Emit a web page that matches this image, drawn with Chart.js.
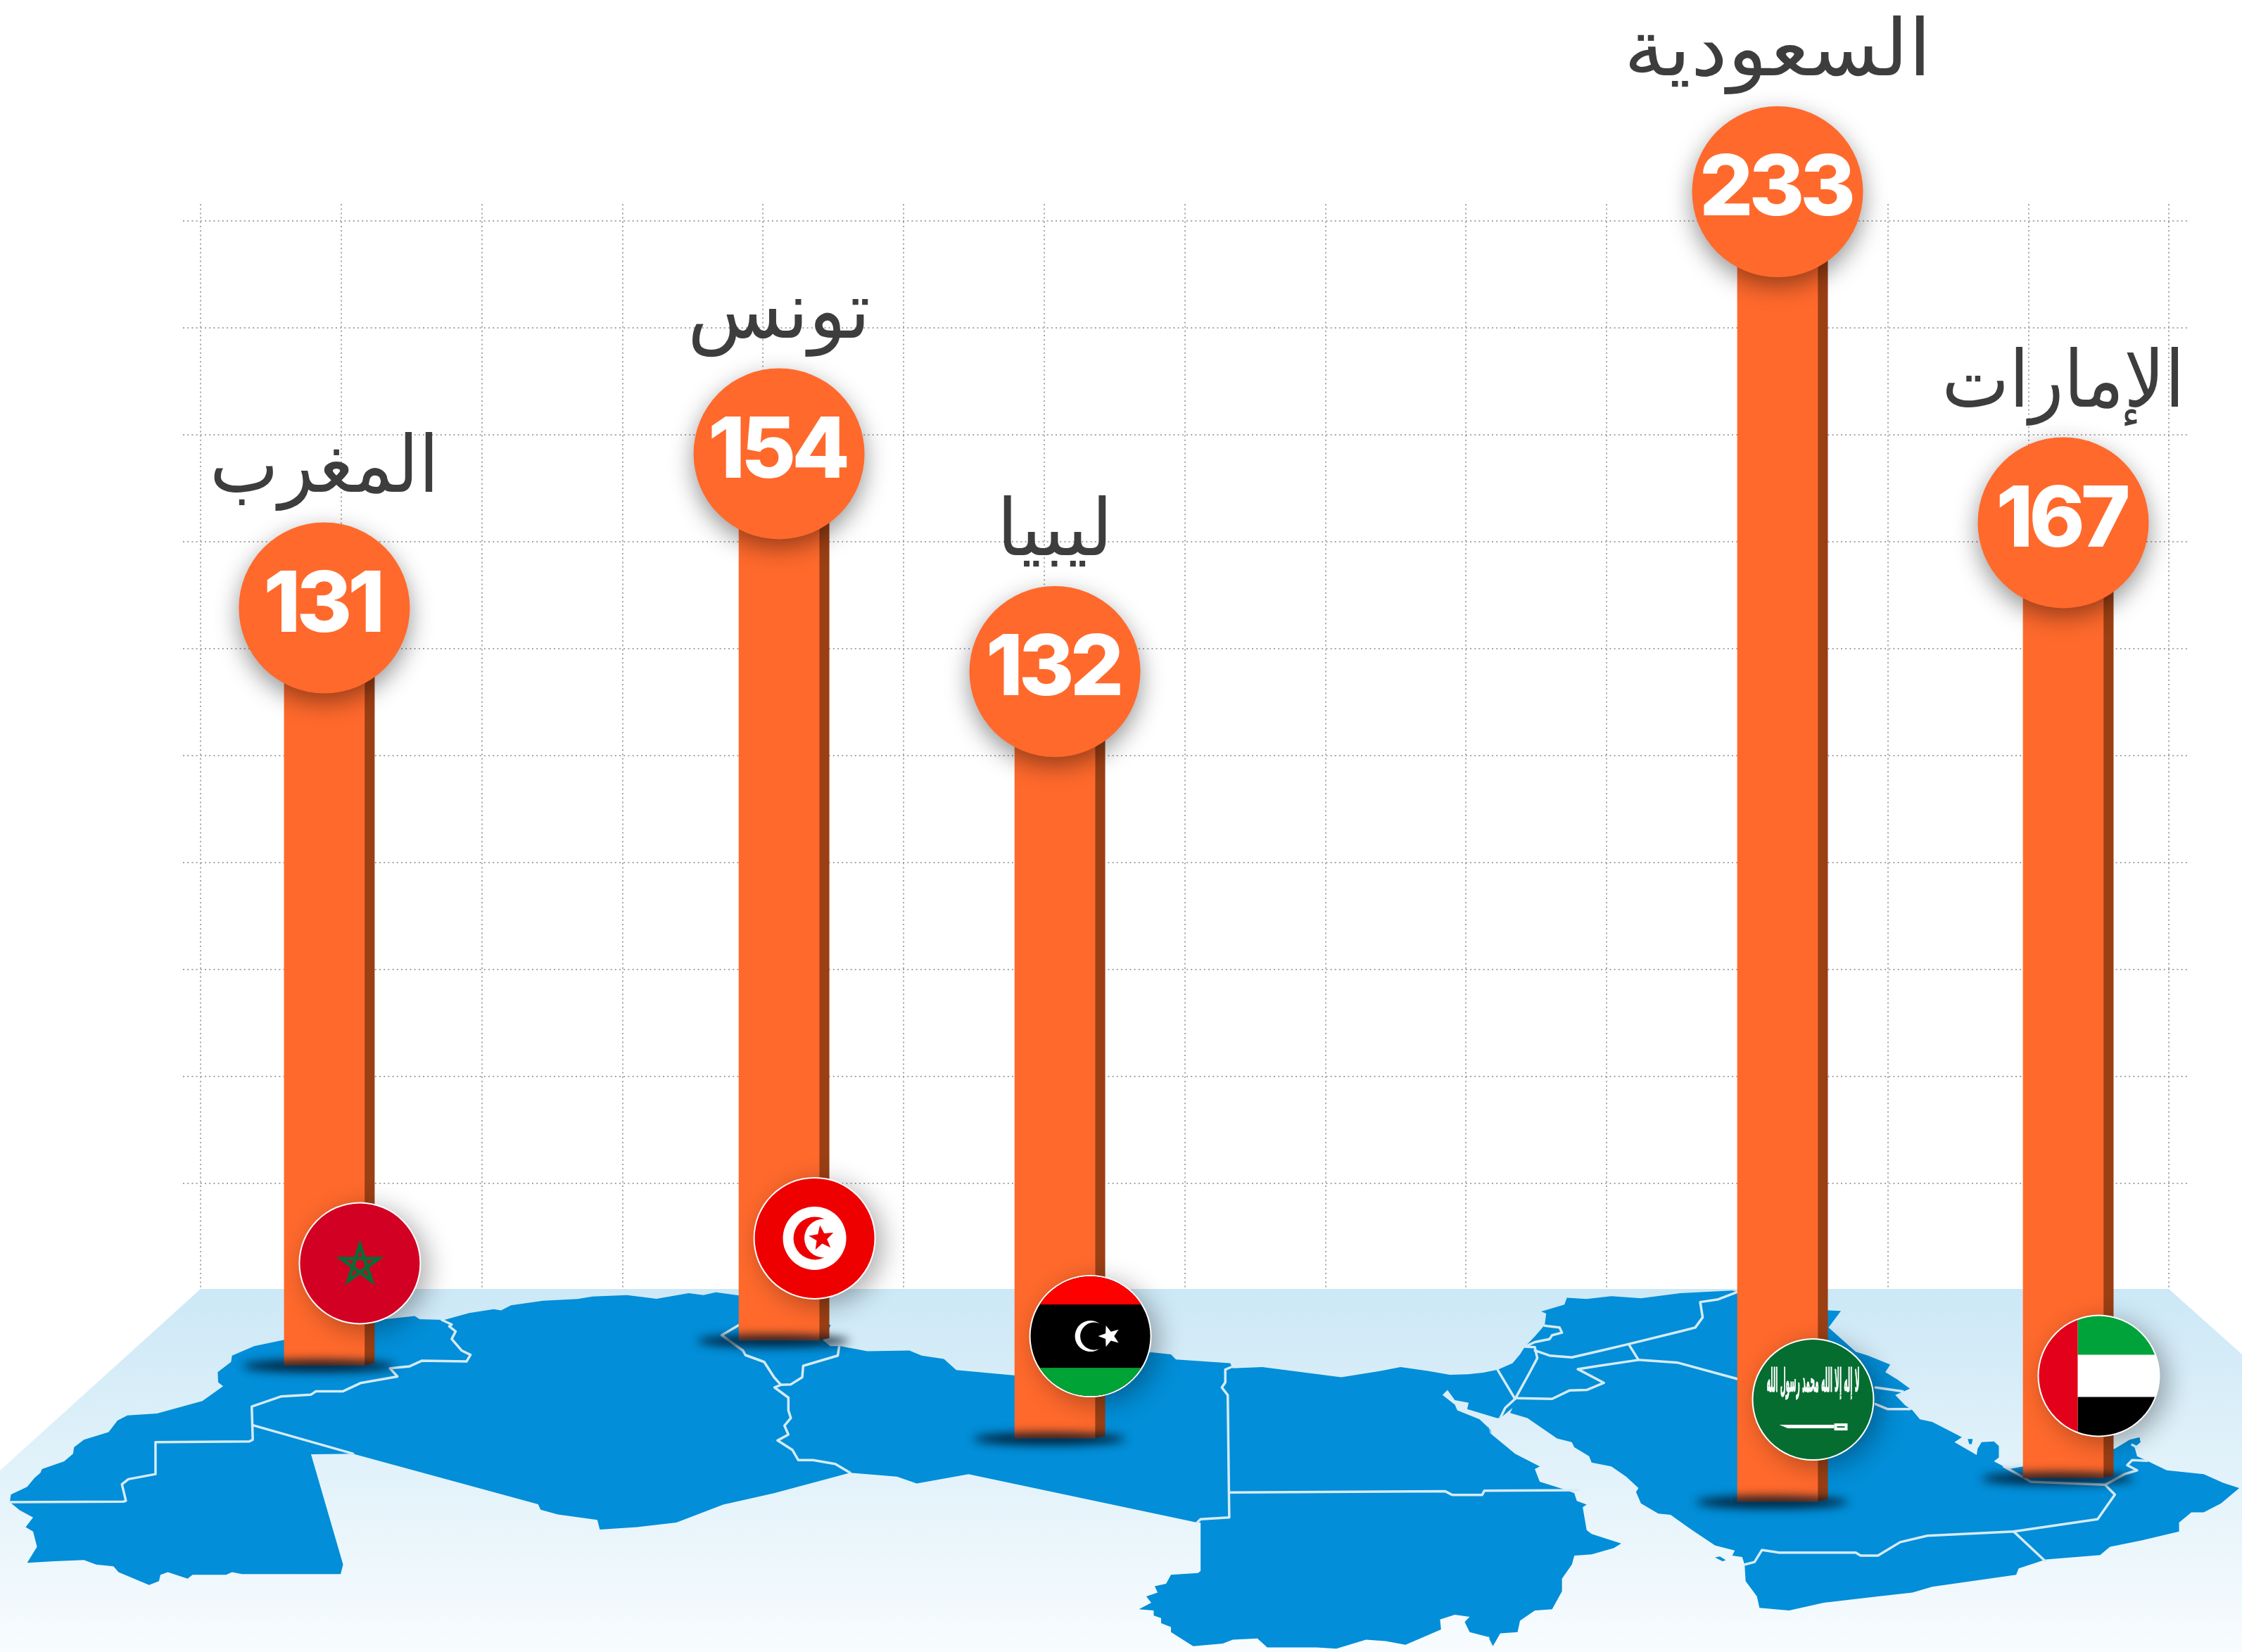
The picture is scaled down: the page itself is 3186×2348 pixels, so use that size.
<!DOCTYPE html>
<html lang="ar">
<head>
<meta charset="utf-8">
<style>html,body{margin:0;padding:0;background:#fff}canvas{display:block}</style>
<script src="https://cdn.jsdelivr.net/npm/chart.js@4"></script>
</head>
<body>
<canvas id="c" width="3186" height="2348"></canvas>
<script>
const countries = ['المغرب','تونس','ليبيا','السعودية','الإمارات'];
const flags = ['ma','tn','ly','sa','ae'];
const values = [131,154,132,233,167];
const columnSlot = [0.879,4.113,6.075,11.215,13.247];
const columnFoot = [-13.35,-8.9,-26.3,-37.55,-33.35];
const badgeLift = [3.56,3.5,4.2,-0.3,2.7];
const labelSpan = [326,260,165,437,345];
const gridX = [0,1,2,3,4,5,6,7,8,9,10,11,12,13,14];
const gridY = [19,38,57,76,95,114,133,152,171,190];

/* backdrop map, traced in crop units */
const W=1100/1568, H=568/1568, Y0=1780, O1=0, O2=1497, O3=2974;
const seg=(o,a)=>a.map(p=>[(p[0]+o)*W,Y0+p[1]*H]);
const mapRing=[].concat(
 seg(O1,[[302,1305],[240,1255],[230,1232],[195,1225],[170,1207],[110,1212],[55,1218],[75,1155],[67,1095],[52,1078],[67,1040],[40,1012],[20,980],[22,950],[55,920],[70,885],[82,865],[85,850],[130,820],[148,790],[150,765],[170,735],[220,705],[238,660],[258,640],[318,632],[410,583],[452,525],[442,510],[441,470],[468,430],[470,405],[515,368],[576,343],[780,262],[840,250],[850,262],[900,265],[950,238],[1000,223],[1015,228],[1035,208],[1100,190],[1170,183],[1200,173],[1270,168],[1330,182],[1395,160],[1425,168],[1450,157],[1500,170]]),
 seg(O2,[[186,285],[170,345],[185,368],[205,368],[260,388],[345,385],[370,405],[415,418],[440,462],[560,483],[835,392],[875,400],[885,420],[995,435],[1000,455],[1060,450],[1220,490],[1300,465],[1340,450],[1395,465],[1440,480]]),
 seg(O3,[[0,478],[30,472],[60,460],[90,435],[105,400],[115,370],[135,330],[155,285],[158,240],[148,232],[195,205],[200,178],[240,183],[290,172],[350,180],[430,160],[535,150],[546,155],[730,228],[755,230],[730,295],[785,390],[810,405],[855,440],[845,470],[870,500],[895,535],[865,560],[885,600],[900,620],[915,655],[940,665],[985,710],[1000,725],[985,745],[1030,795],[1032,770],[1040,745],[1065,742],[1075,760],[1075,805],[1065,820],[1085,840],[1095,850],[1125,840],[1310,770],[1340,735],[1360,725],[1362,745],[1350,765],[1355,800],[1375,818],[1415,855],[1490,870],[1530,905],[1562,925],[1525,985],[1490,1020],[1465,1020],[1440,1060],[1440,1095],[1365,1130],[1300,1155],[1280,1188],[1170,1205],[1115,1240],[1110,1265],[940,1312],[900,1335],[830,1350],[720,1375],[650,1405],[590,1395],[585,1350],[562,1290],[560,1225],[555,1195],[535,1190],[540,1170],[500,1150],[450,1085],[410,1030],[385,1025],[350,985],[340,940],[345,925],[320,880],[290,840],[250,825],[245,800],[215,765],[210,745],[180,730],[120,650],[85,630],[90,610],[65,650]]),
 seg(O2,[[1535,650],[1475,615],[1478,590],[1450,580],[1435,540],[1425,560],[1450,598],[1455,620],[1500,655],[1522,695],[1525,715]]),
 seg(O3,[[40,680],[45,710],[95,790],[145,840],[135,850],[145,900],[195,930],[215,945],[220,975],[240,990],[232,1000],[240,1090],[250,1105],[310,1142],[295,1160],[250,1185],[215,1190],[210,1225],[190,1280],[190,1330],[170,1400],[135,1405],[105,1445],[100,1490],[65,1495],[50,1545],[40,1500]]),
 seg(O2,[[1525,1545],[1520,1510],[1480,1490],[1470,1450],[1480,1430],[1450,1422],[1420,1440],[1422,1480],[1350,1540],[1310,1525],[1270,1520],[1210,1555],[1170,1550],[1070,1550],[1050,1515],[1000,1520],[980,1535],[920,1545],[875,1490],[875,1470],[855,1455],[855,1435],[840,1425],[840,1405],[810,1400],[835,1375],[825,1350],[848,1335],[842,1310],[865,1300],[875,1265],[930,1258],[935,1250],[935,1060],[928,1060],[465,870],[360,907],[320,880],[225,865],[71,945]]),
 seg(O1,[[1465,990],[1370,1060],[1290,1078],[1215,1088],[1210,1050],[1130,1028],[1095,1010],[1090,988],[715,790],[630,792],[695,1225],[690,1262],[490,1262],[470,1255],[458,1265],[390,1265],[380,1280],[340,1255],[325,1265],[322,1290]])
);
const mapIslands=[
 seg(O3,[[1012,732],[1022,732],[1020,752],[1015,752]]),
 seg(O3,[[500,1197],[510,1193],[522,1208],[515,1212]])
];
const mapBorders=[
 seg(O1,[[20,980],[250,978],[255,975],[247,910],[260,890],[315,870],[315,745],[505,742],[512,735],[510,605],[570,565],[630,558],[640,545],[695,545],[730,513],[805,487],[790,455],[830,447],[855,425],[945,428],[953,402],[935,385],[915,340],[923,310],[910,290],[915,283],[895,265]]),
 seg(O1,[[512,678],[715,790]]),
 seg(O1,[[1497,285],[1462,325],[1505,385],[1510,403],[1548,430],[1568,490]]).concat(seg(O2,[[85,520],[72,530],[100,570],[100,620],[105,650],[92,680],[100,715],[78,738],[108,775],[120,815],[150,815],[195,830],[225,865]])),
 seg(O2,[[85,520],[105,518],[128,490],[130,445],[200,405],[203,368]]),
 seg(O2,[[997,450],[985,460],[985,510],[978,530],[990,560],[993,1040],[935,1047],[928,1060]]),
 seg(O2,[[995,942],[1430,937],[1445,952],[1505,952],[1510,935],[1700,933]]),
 seg(O3,[[60,462],[95,575],[125,470],[140,415],[135,372],[115,370],[135,352],[165,340],[170,325],[190,315],[185,295],[155,288]]),
 seg(O3,[[135,385],[165,405],[210,412],[270,385],[325,360],[430,310],[460,295],[475,255],[470,195],[505,185],[546,155]]),
 seg(O3,[[325,360],[345,422],[425,433],[546,497]]),
 seg(O3,[[345,422],[265,445],[222,458],[275,512],[240,540],[205,542],[170,575],[100,572]]),
 seg(O3,[[95,575],[75,610],[65,650]]),
 seg(O3,[[825,530],[880,545]]),
 seg(O3,[[825,595],[850,615],[895,615]]),
 seg(O3,[[1085,840],[1140,900],[1290,912],[1330,870],[1355,855],[1335,835],[1345,815],[1375,818]]),
 seg(O3,[[1345,755],[1355,765]]),
 seg(O3,[[1290,912],[1310,950],[1275,1047],[1105,1095],[930,1112],[875,1137],[830,1190],[795,1190],[785,1178],[630,1178],[595,1168],[580,1215],[560,1225]]),
 seg(O3,[[1105,1095],[1168,1210]])
];

const trace=(ctx,pts,close)=>{ctx.beginPath();pts.forEach((p,i)=>i?ctx.lineTo(p[0],p[1]):ctx.moveTo(p[0],p[1]));if(close)ctx.closePath();};

const backdrop={id:'backdrop',beforeDraw(chart){
  const c=chart.ctx;c.save();
  const g=c.createLinearGradient(0,1832,0,2348);
  g.addColorStop(0,'#cce8f6');g.addColorStop(1,'#f8fcfe');
  c.fillStyle=g;
  trace(c,[[285,1832],[3082,1832],[3186,1925],[3186,2348],[0,2348],[0,2090]],true);c.fill();
  c.fillStyle='#028ed8';
  trace(c,mapRing,true);c.fill();
  mapIslands.forEach(p=>{trace(c,p,true);c.fill();});
  c.strokeStyle='#d6ebf7';c.lineWidth=3.5;c.lineJoin='round';c.lineCap='round';
  mapBorders.forEach(p=>{trace(c,p,false);c.stroke();});
  c.restore();
}};

const star=(c,x,y,r,rot,inner)=>{c.beginPath();for(let i=0;i<10;i++){const a=rot+i*Math.PI/5,q=i%2?r*inner:r;c[i?'lineTo':'moveTo'](x+q*Math.sin(a),y-q*Math.cos(a));}c.closePath();};
const flagArt={
 ma(c,x,y){c.fillStyle='#d20022';c.fillRect(x-90,y-90,180,180);
  c.strokeStyle='#0b6b36';c.lineWidth=5;c.beginPath();
  for(let i=0;i<=5;i++){const a=i*4*Math.PI/5,r=28;c[i?'lineTo':'moveTo'](x+r*Math.sin(a),y+2-r*Math.cos(a));}
  c.closePath();c.stroke();},
 tn(c,x,y){c.fillStyle='#ee0000';c.fillRect(x-90,y-90,180,180);
  c.fillStyle='#fff';c.beginPath();c.arc(x,y,45,0,7);c.fill();
  c.fillStyle='#ee0000';c.beginPath();c.arc(x+0.5,y,30.5,0,7);c.fill();
  c.fillStyle='#fff';c.beginPath();c.arc(x+13,y,27.5,0,7);c.fill();
  c.fillStyle='#ee0000';star(c,x+10,y,18.5,-0.13,0.42);c.fill();},
 ly(c,x,y){c.fillStyle='#000';c.fillRect(x-90,y-90,180,180);
  c.fillStyle='#ff0000';c.fillRect(x-90,y-90,180,45);
  c.fillStyle='#00a335';c.fillRect(x-90,y+45,180,45);
  c.fillStyle='#fff';c.beginPath();c.arc(x,y,22,0.9,Math.PI*2-0.9);c.arc(x+5,y,19.5,Math.PI*2-1.05,1.05,true);c.closePath();c.fill();
  star(c,x+27,y,16,-1.57,0.42);c.fill();},
 sa(c,x,y){c.fillStyle='#056d30';c.fillRect(x-90,y-90,180,180);
  c.fillStyle='#fff';c.strokeStyle='#fff';c.lineWidth=1;c.font='bold 46px "DejaVu Sans"';c.textAlign='center';c.textBaseline='middle';c.direction='rtl';
  c.fillText('لا إله إلا الله محمد رسول الله',x,y-23,132);
  c.strokeText('لا إله إلا الله محمد رسول الله',x,y-23,132);
  c.beginPath();c.moveTo(x-48,y+36);c.lineTo(x+30,y+36);c.lineTo(x+30,y+41);c.lineTo(x-36,y+41);c.closePath();c.fill();
  c.fillRect(x+30,y+34,19,10);c.fillStyle='#056d30';c.fillRect(x+34,y+38,11,2);},
 ae(c,x,y){c.fillStyle='#fff';c.fillRect(x-90,y-90,180,180);
  c.fillStyle='#00a33a';c.fillRect(x-30,y-90,120,60);
  c.fillStyle='#000';c.fillRect(x-30,y+30,120,60);
  c.fillStyle='#e2001a';c.fillRect(x-90,y-90,60,180);}
};

const columnDress={id:'columnDress',
 beforeDatasetDraw(chart,a){
  const c=chart.ctx;
  if(a.index===1){c.save();c.shadowColor='rgba(0,0,0,0.42)';c.shadowBlur=34;c.shadowOffsetX=0;c.shadowOffsetY=12;}
  if(a.index===0){
   c.save();c.fillStyle='#9b3f14';
   a.meta.data.forEach(b=>{const r=b.x+b.width/2;c.beginPath();c.moveTo(r,b.y);c.lineTo(r+14.5,b.y);c.lineTo(r+14.5,b.base-3);c.lineTo(r,b.base);c.closePath();c.fill();});
   c.restore();
  }
 },
 afterDatasetDraw(chart,a){
  const c=chart.ctx;
  if(a.index===1){c.restore();}
  if(a.index===0){
   c.save();c.filter='blur(7px)';c.fillStyle='rgba(0,18,34,0.85)';
   a.meta.data.forEach(b=>{c.beginPath();c.ellipse(b.x-8,b.base+1,108,9,0,0,7);c.fill();});
   c.restore();
  }
 },
 afterDatasetsDraw(chart){
  const c=chart.ctx;
  const bars=chart.getDatasetMeta(0).data, pts=chart.getDatasetMeta(1).data;
  bars.forEach((b,i)=>{
   const x=b.x+50.5,y=b.base-145;
   c.save();c.shadowColor='rgba(0,0,0,0.32)';c.shadowBlur=36;c.shadowOffsetX=10;c.shadowOffsetY=8;
   c.fillStyle='#fff';c.beginPath();c.arc(x,y,87,0,7);c.fill();c.restore();
   c.save();c.beginPath();c.arc(x,y,85,0,7);c.clip();flagArt[flags[i]](c,x,y);c.restore();
  });
  pts.forEach((p,i)=>{
   c.save();c.textAlign='center';
   c.fillStyle='#fff';c.font='800 120px Inter';c.textBaseline='alphabetic';c.letterSpacing='-6px';
   c.fillText(String(values[i]),p.x-3,p.y+34);
   c.letterSpacing='0px';c.direction='rtl';
   c.fillStyle='#3d3d3d';c.font='112px "DejaVu Sans"';
   const w=c.measureText(countries[i]).width;
   c.translate(p.x,p.y-165);c.scale(labelSpan[i]/w,1);
   c.fillText(countries[i],0,0);
   c.restore();
  });
 }
};

new Chart(document.getElementById('c').getContext('2d'),{
 data:{datasets:[
  {type:'bar',label:'column',order:2,clip:false,barThickness:114,backgroundColor:'#ff692c',borderWidth:0,
   data:countries.map((n,i)=>({x:columnSlot[i],y:[columnFoot[i],columnFoot[i]+values[i]]}))},
  {type:'scatter',label:'badge',order:1,clip:false,pointRadius:121.5,pointHoverRadius:121.5,pointBorderWidth:0,pointBackgroundColor:'#ff692c',
   data:countries.map((n,i)=>({x:columnSlot[i],y:columnFoot[i]+values[i]+badgeLift[i]}))}
 ]},
 options:{
  responsive:false,animation:false,events:[],
  layout:{autoPadding:false,padding:{left:260,right:78,top:290,bottom:516}},
  plugins:{legend:{display:false},tooltip:{enabled:false},title:{display:false}},
  scales:{
   x:{type:'linear',offset:false,min:-0.1266,max:14.128,
      grid:{offset:false,color:'#a6a6a6',lineWidth:2,drawTicks:false},
      border:{display:false,dash:[2,4.2]},ticks:{display:false},
      afterBuildTicks:s=>{s.ticks=gridX.map(v=>({value:v}));}},
   y:{type:'linear',min:0.2125,max:192.96,
      grid:{color:'#a6a6a6',lineWidth:2,drawTicks:false},
      border:{display:false,dash:[2,4.2]},ticks:{display:false},
      afterBuildTicks:s=>{s.ticks=gridY.map(v=>({value:v}));}}
  }
 },
 plugins:[backdrop,columnDress]
});
</script>
</body>
</html>
